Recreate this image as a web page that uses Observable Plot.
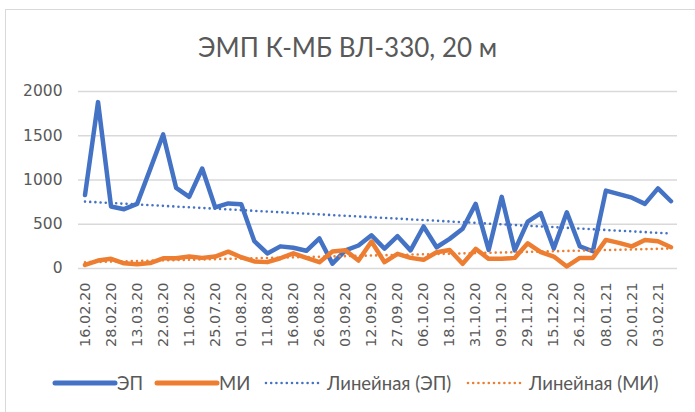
<!DOCTYPE html>
<html><head><meta charset="utf-8">
<script src="https://cdn.jsdelivr.net/npm/d3@7"></script>
<script src="https://cdn.jsdelivr.net/npm/@observablehq/plot@0.6"></script>
<style>
body{margin:0;background:#fff;}
#wrap{position:relative;width:695px;height:412px;overflow:hidden;color:#595959;font-family:Lato,"Noto Sans",sans-serif;}
#frame{position:absolute;left:5px;top:9px;width:720px;height:440px;border:1.5px solid #d9d9d9;box-sizing:border-box;}
#title{position:absolute;left:0;top:31px;width:695px;text-align:center;font-size:26px;line-height:32px;}
#chart{position:absolute;left:0;top:0;}
.leg{position:absolute;top:373px;height:20px;font-size:18.5px;line-height:20px;white-space:nowrap;}
.sw{position:absolute;}
</style></head>
<body><div id="wrap"><div id="frame"></div><div id="chart"></div><div id="title"></div><div id="legend"></div></div>
<script>
const titleText = "ЭМП К-МБ ВЛ-330, 20 м";
const seriesNames = ["ЭП", "МИ"];
const trendNames = ["Линейная (ЭП)", "Линейная (МИ)"];
const colors = ["#4472C4", "#ED7D31"];
// labels shown on the category axis (every second category)
const dateLabels = ["16.02.20","28.02.20","13.03.20","22.03.20","11.06.20","25.07.20","01.08.20","11.08.20","16.08.20","26.08.20","03.09.20","12.09.20","27.09.20","06.10.20","18.10.20","31.10.20","09.11.20","29.11.20","15.12.20","26.12.20","08.01.21","20.01.21","03.02.21"];
const yTicks = [0, 500, 1000, 1500, 2000];
const epValues = [830,1880,700,670,730,1120,1515,910,810,1130,690,735,725,310,170,250,235,200,340,55,205,260,375,225,365,205,475,240,335,450,730,210,810,205,530,625,225,635,250,195,880,840,800,730,905,760];
const miValues = [40,90,110,58,47,62,115,115,135,120,135,190,127,80,72,116,172,120,71,191,205,90,305,71,166,120,98,184,210,53,222,109,109,120,285,184,135,23,120,120,323,290,250,323,308,240];

document.getElementById("title").textContent = titleText;
const ep = epValues.map((v, i) => ({i, v}));
const mi = miValues.map((v, i) => ({i, v}));
const n = epValues.length;
const evenIdx = d3.range(0, n, 2);

const chart = Plot.plot({
  width: 695, height: 412,
  marginLeft: 78, marginRight: 18, marginTop: 91, marginBottom: 144,
  style: {background: "transparent", color: "#595959", fontFamily: "'DejaVu Sans', sans-serif"},
  x: {type: "linear", domain: [-0.5, n - 0.5], label: null},
  y: {domain: [0, 2000], label: null},
  marks: [
    Plot.gridY(yTicks, {stroke: "#d9d9d9", strokeOpacity: 1, strokeWidth: 1.3}),
    Plot.axisY(yTicks, {tickSize: 0, tickPadding: 16, fontSize: 15.5, label: null, tickFormat: d => String(d)}),
    Plot.axisX(evenIdx, {tickSize: 0, tickPadding: 14, tickRotate: -90, fontSize: 14.5, label: null, tickFormat: i => dateLabels[i / 2]}),
    Plot.line(ep, {x: "i", y: "v", stroke: colors[0], strokeWidth: 4.5, strokeLinejoin: "round", strokeLinecap: "round"}),
    Plot.line(mi, {x: "i", y: "v", stroke: colors[1], strokeWidth: 4.5, strokeLinejoin: "round", strokeLinecap: "round"}),
    Plot.linearRegressionY(ep, {x: "i", y: "v", ci: 0, stroke: colors[0], strokeWidth: 2.6, strokeDasharray: "0 5.2", strokeLinecap: "round"}),
    Plot.linearRegressionY(mi, {x: "i", y: "v", ci: 0, stroke: colors[1], strokeWidth: 2.6, strokeDasharray: "0 5.2", strokeLinecap: "round"})
  ]
});
document.getElementById("chart").appendChild(chart);

// legend
const legend = document.getElementById("legend");
const items = [
  {x: 55, w: 60, text: seriesNames[0], tx: 117, color: colors[0], dotted: false},
  {x: 157, w: 60, text: seriesNames[1], tx: 219, color: colors[1], dotted: false},
  {x: 266, w: 53, text: trendNames[0], tx: 327, color: colors[0], dotted: true},
  {x: 468, w: 53, text: trendNames[1], tx: 529, color: colors[1], dotted: true}
];
for (const it of items) {
  const s = d3.create("svg").attr("class", "sw").attr("width", it.w + 6).attr("height", 8)
    .style("left", (it.x - 3) + "px").style("top", "379px");
  s.append("line").attr("x1", 3).attr("x2", it.w + 3).attr("y1", 4).attr("y2", 4)
    .attr("stroke", it.color).attr("stroke-linecap", "round")
    .attr("stroke-width", it.dotted ? 2.6 : 5)
    .attr("stroke-dasharray", it.dotted ? "0 5.2" : null);
  legend.appendChild(s.node());
  const t = document.createElement("div");
  t.className = "leg"; t.style.left = it.tx + "px"; t.textContent = it.text;
  legend.appendChild(t);
}
</script></body></html>
